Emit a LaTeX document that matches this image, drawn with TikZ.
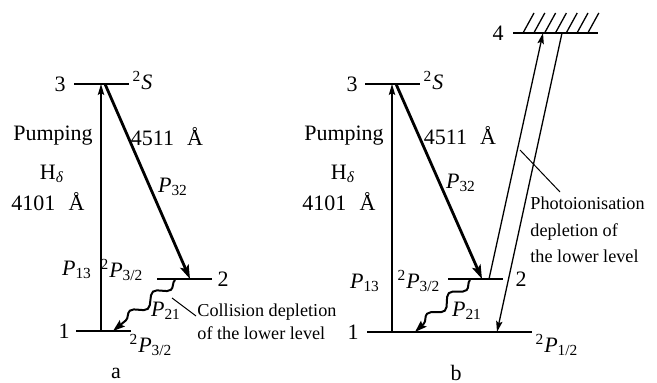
\documentclass[tikz,border=0pt]{standalone}
\usepackage{fontspec}
\setmainfont{Liberation Serif}
\usetikzlibrary{arrows.meta,decorations.pathmorphing}
\tikzset{
  level/.style={line width=1.25pt},
  thinarrow/.style={line width=0.65pt,-{Stealth[length=5.5pt,width=3.2pt,inset=1pt]}},
  thickarrow/.style={line width=1.4pt,-{Stealth[length=7pt,width=4.5pt,inset=1.5pt]}},
  wavyarrow/.style={line width=1pt,-{Stealth[length=6pt,width=4pt,inset=1pt]},
    decorate,decoration={snake,amplitude=2.5pt,segment length=15pt,post length=4pt}},
  lbl/.style={font=\fontsize{11}{13}\selectfont,inner sep=0pt},
  note/.style={align=left,inner sep=0pt},
  leader/.style={line width=0.5pt}
}
\newcommand{\Psub}[1]{\textit{P}\textsubscript{#1}}
\newcommand{\term}[2]{\textsuperscript{2}\textit{#1}\textsubscript{#2}}
\begin{document}
\begin{tikzpicture}[x=0.5pt,y=-0.5pt]
\useasboundingbox (0,0) rectangle (657,383);
\coordinate (a3l) at (74,84);   \coordinate (a3r) at (129,84);
\coordinate (a2l) at (157,279); \coordinate (a2r) at (212,279);
\coordinate (a1l) at (76,331);  \coordinate (a1r) at (131,331);
\draw[level] (a3l) -- (a3r);
\draw[level] (a2l) -- (a2r);
\draw[level] (a1l) -- (a1r);
\node[lbl] (an3) at (60,84) {3};
\node[lbl] (an2) at (223,279) {2};
\node[lbl] (an1) at (64,331) {1};
\node[lbl] (aS) at (143,82) {\term{S}{}};
\node[lbl] (aP1) at (151,345) {\term{P}{3/2}};
\node[lbl] (aP2) at (122,270) {\term{P}{3/2}};
\node[lbl] (aP13) at (77,270) {\Psub{13}};
\node[lbl] (aP32) at (173,187) {\Psub{32}};
\node[lbl] (aP21) at (166,311) {\Psub{21}};
\node[lbl] (apump) at (53,136) {Pumping};
\node[lbl] (aH) at (52,174) {H\textsubscript{\textit{δ}}};
\node[lbl] (aw1) at (48,202) {4101\hspace{0.6em}Å};
\node[lbl] (aw2) at (167,137) {4511\hspace{0.6em}Å};
\node[lbl] (acap) at (116,373) {a};
\node[lbl,note,anchor=west,font=\fontsize{9.1}{11.5}\selectfont] (acol) at (197,322) {Collision depletion\\of the lower level};
\coordinate (apu1) at (101,331); \coordinate (apu3) at (101,84);
\coordinate (a32s) at (105,84);  \coordinate (a32e) at (190,279);
\coordinate (a21s) at (175,280); \coordinate (a21e) at (113,331);
\coordinate (alds) at (172,298); \coordinate (alde) at (196,316);
\draw[thinarrow] (apu1) -- (apu3);
\draw[thickarrow] (a32s) -- (a32e);
\draw[wavyarrow] (a21s) -- (a21e);
\draw[leader] (alds) -- (alde);
\coordinate (b3l) at (365,84);  \coordinate (b3r) at (420,84);
\coordinate (b2l) at (448,279); \coordinate (b2r) at (503,279);
\coordinate (b1l) at (367,332); \coordinate (b1r) at (532,332);
\coordinate (b4l) at (513,33);  \coordinate (b4r) at (598,33);
\draw[level] (b3l) -- (b3r);
\draw[level] (b2l) -- (b2r);
\draw[level] (b1l) -- (b1r);
\draw[level] (b4l) -- (b4r);
\foreach \i in {0,...,6}
  \draw[line width=0.65pt] (523+10.8*\i,33) -- (534+10.8*\i,13);
\node[lbl] (bn3) at (352,84) {3};
\node[lbl] (bn2) at (521,279) {2};
\node[lbl] (bn1) at (353,332) {1};
\node[lbl] (bn4) at (498,33) {4};
\node[lbl] (bS) at (434,82) {\term{S}{}};
\node[lbl] (bP1) at (557,345) {\term{P}{1/2}};
\node[lbl] (bP2) at (419,281) {\term{P}{3/2}};
\node[lbl] (bP13) at (365,283) {\Psub{13}};
\node[lbl] (bP32) at (461,183) {\Psub{32}};
\node[lbl] (bP21) at (467,311) {\Psub{21}};
\node[lbl] (bpump) at (344,136) {Pumping};
\node[lbl] (bH) at (343,174) {H\textsubscript{\textit{δ}}};
\node[lbl] (bw1) at (339,202) {4101\hspace{0.6em}Å};
\node[lbl] (bw2) at (460,136) {4511\hspace{0.6em}Å};
\node[lbl] (bcap) at (456,373) {b};
\node[lbl,note,anchor=west,font=\fontsize{9.1}{13.25}\selectfont] (bphot) at (530,230) {Photoionisation\\depletion of\\the lower level};
\coordinate (bpu1) at (392,332); \coordinate (bpu3) at (392,84);
\coordinate (b32s) at (396,84);  \coordinate (b32e) at (482,279);
\coordinate (b21s) at (470,280); \coordinate (b21e) at (415,332);
\coordinate (b24s) at (489,279); \coordinate (b24e) at (543,33);
\coordinate (b41s) at (562,33);  \coordinate (b41e) at (497,332);
\coordinate (blds) at (520,150); \coordinate (blde) at (560,192);
\draw[thinarrow] (bpu1) -- (bpu3);
\draw[thickarrow] (b32s) -- (b32e);
\draw[wavyarrow] (b21s) -- (b21e);
\draw[thinarrow] (b24s) -- (b24e);
\draw[thinarrow] (b41s) -- (b41e);
\draw[leader] (blds) -- (blde);
\end{tikzpicture}
\end{document}
